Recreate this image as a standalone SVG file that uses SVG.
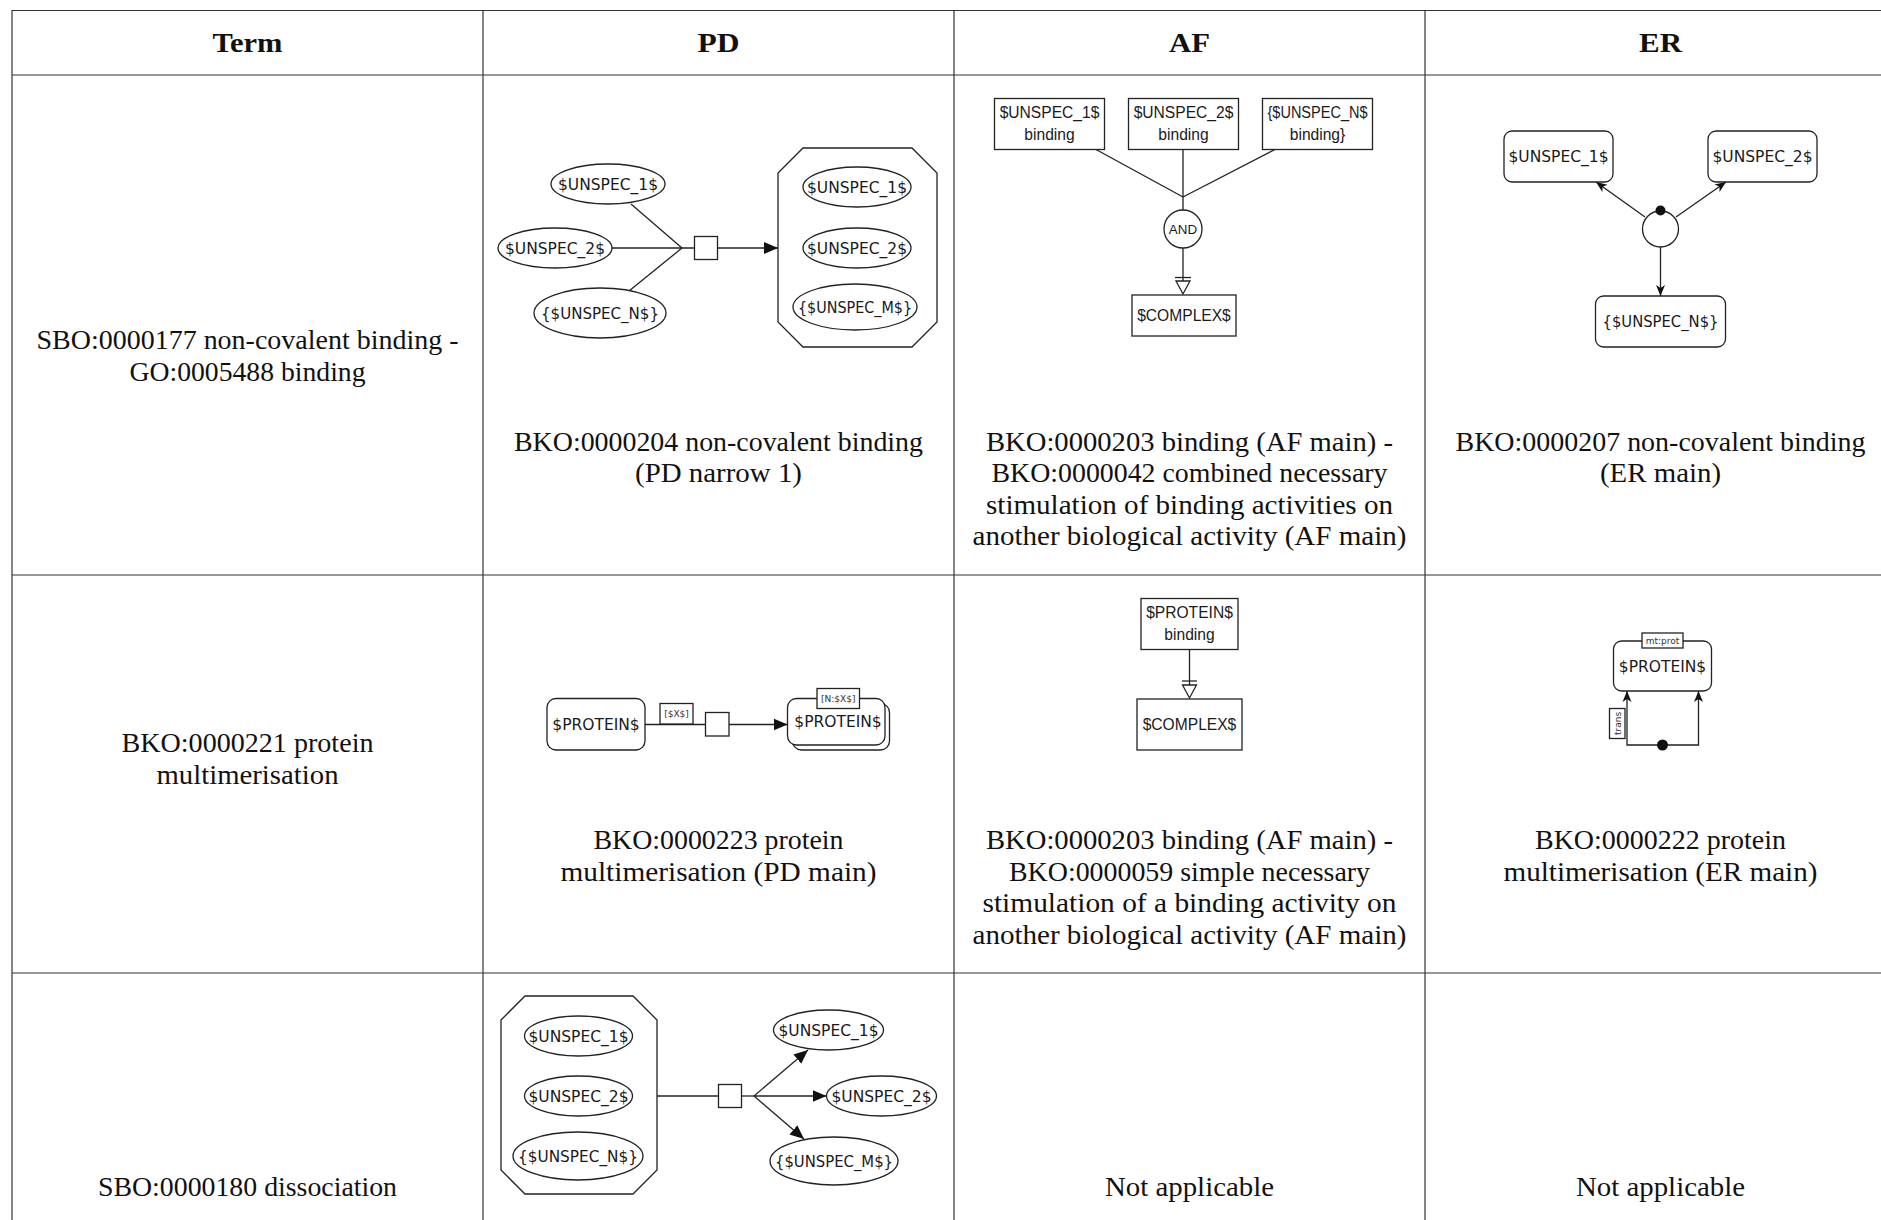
<svg xmlns="http://www.w3.org/2000/svg" width="1881" height="1220" viewBox="0 0 1881 1220">
  <style>
    .grid { stroke: #333; stroke-width: 1.2; fill: none; }
    .cap { font-family: "Liberation Serif", "Times New Roman", serif; font-size: 28px; text-anchor: middle; fill: #111; }
    .hd { font-weight: bold; }
    .sh { fill: #fff; stroke: #222; stroke-width: 1.3; }
    .t { font-family: "DejaVu Sans", sans-serif; font-size: 15.5px; text-anchor: middle; fill: #1a1a1a; }
    .ta { font-family: "Liberation Sans", Arial, sans-serif; font-size: 15.6px; text-anchor: middle; fill: #1a1a1a; }
    .sm { font-family: "DejaVu Sans", sans-serif; font-size: 9px; text-anchor: middle; fill: #333; }
    .e { stroke: #222; stroke-width: 1.3; fill: none; }
    .dot { fill: #111; stroke: none; }
  </style>
  <defs>
    <marker id="tri" markerUnits="userSpaceOnUse" markerWidth="15" markerHeight="13" refX="14" refY="6.5" orient="auto">
      <path d="M0,0.5 L14,6.5 L0,12.5 Z" fill="#111"/>
    </marker>
    <marker id="stealth" markerUnits="userSpaceOnUse" markerWidth="12" markerHeight="10" refX="11" refY="5" orient="auto">
      <path d="M0,0.5 L11,5 L0,9.5 L3,5 Z" fill="#111"/>
    </marker>
  </defs>

  <rect width="1881" height="1220" fill="#fff"/>

  <!-- table grid -->
  <g id="grid" class="grid">
    <line x1="12" y1="10.5" x2="1881" y2="10.5"/>
    <line x1="12" y1="75" x2="1881" y2="75"/>
    <line x1="12" y1="575" x2="1881" y2="575"/>
    <line x1="12" y1="973" x2="1881" y2="973"/>
    <line x1="12" y1="10" x2="12" y2="1220"/>
    <line x1="483" y1="10" x2="483" y2="1220"/>
    <line x1="954" y1="10" x2="954" y2="1220"/>
    <line x1="1425" y1="10" x2="1425" y2="1220"/>
  </g>

  <!-- header row -->
  <g id="header" class="cap hd">
    <text x="247.5" y="52" textLength="70" lengthAdjust="spacingAndGlyphs">Term</text>
    <text x="718.5" y="52" textLength="42" lengthAdjust="spacingAndGlyphs">PD</text>
    <text x="1189.5" y="52" textLength="41" lengthAdjust="spacingAndGlyphs">AF</text>
    <text x="1660.5" y="52" textLength="43" lengthAdjust="spacingAndGlyphs">ER</text>
  </g>

  <!-- captions -->
  <g id="captions" class="cap">
    <text x="247.5" y="349" textLength="422" lengthAdjust="spacingAndGlyphs">SBO:0000177 non-covalent binding -</text>
    <text x="247.5" y="380.5" textLength="236" lengthAdjust="spacingAndGlyphs">GO:0005488 binding</text>

    <text x="718.5" y="450.5" textLength="409" lengthAdjust="spacingAndGlyphs">BKO:0000204 non-covalent binding</text>
    <text x="718.5" y="482" textLength="167" lengthAdjust="spacingAndGlyphs">(PD narrow 1)</text>

    <text x="1189.5" y="450.5" textLength="407" lengthAdjust="spacingAndGlyphs">BKO:0000203 binding (AF main) -</text>
    <text x="1189.5" y="482" textLength="396" lengthAdjust="spacingAndGlyphs">BKO:0000042 combined necessary</text>
    <text x="1189.5" y="513.5" textLength="407" lengthAdjust="spacingAndGlyphs">stimulation of binding activities on</text>
    <text x="1189.5" y="545" textLength="434" lengthAdjust="spacingAndGlyphs">another biological activity (AF main)</text>

    <text x="1660.5" y="450.5" textLength="410" lengthAdjust="spacingAndGlyphs">BKO:0000207 non-covalent binding</text>
    <text x="1660.5" y="482" textLength="121" lengthAdjust="spacingAndGlyphs">(ER main)</text>

    <text x="247.5" y="752" textLength="252" lengthAdjust="spacingAndGlyphs">BKO:0000221 protein</text>
    <text x="247.5" y="783.5" textLength="182" lengthAdjust="spacingAndGlyphs">multimerisation</text>

    <text x="718.5" y="849" textLength="250" lengthAdjust="spacingAndGlyphs">BKO:0000223 protein</text>
    <text x="718.5" y="880.5" textLength="316" lengthAdjust="spacingAndGlyphs">multimerisation (PD main)</text>

    <text x="1189.5" y="849" textLength="407" lengthAdjust="spacingAndGlyphs">BKO:0000203 binding (AF main) -</text>
    <text x="1189.5" y="880.5" textLength="361" lengthAdjust="spacingAndGlyphs">BKO:0000059 simple necessary</text>
    <text x="1189.5" y="912" textLength="414" lengthAdjust="spacingAndGlyphs">stimulation of a binding activity on</text>
    <text x="1189.5" y="943.5" textLength="434" lengthAdjust="spacingAndGlyphs">another biological activity (AF main)</text>

    <text x="1660.5" y="849" textLength="251" lengthAdjust="spacingAndGlyphs">BKO:0000222 protein</text>
    <text x="1660.5" y="880.5" textLength="314" lengthAdjust="spacingAndGlyphs">multimerisation (ER main)</text>

    <text x="247.5" y="1196" textLength="299" lengthAdjust="spacingAndGlyphs">SBO:0000180 dissociation</text>
    <text x="1189.5" y="1196" textLength="169" lengthAdjust="spacingAndGlyphs">Not applicable</text>
    <text x="1660.5" y="1196" textLength="169" lengthAdjust="spacingAndGlyphs">Not applicable</text>
  </g>

  <!-- connectors -->
  <g id="connectors">
    <!-- PD binding -->
    <path class="e" d="M631,204 L682,248"/>
    <path class="e" d="M612,248 L694.5,248"/>
    <path class="e" d="M629,291 L682,248"/>
    <path class="e" d="M717.5,248 L778,248" marker-end="url(#tri)"/>
    <!-- AF binding -->
    <path class="e" d="M1096,149.5 L1183,197"/>
    <path class="e" d="M1183,149.5 L1183,210"/>
    <path class="e" d="M1275,149.5 L1183,197"/>
    <path class="e" d="M1183,248 L1183,281"/>
    <path class="e" d="M1175,277.5 H1191"/>
    <path class="sh" d="M1176,281 L1190,281 L1183,294 Z"/>
    <!-- ER binding -->
    <path class="e" d="M1645,217 L1596,182" marker-end="url(#stealth)"/>
    <path class="e" d="M1676,217 L1726,182" marker-end="url(#stealth)"/>
    <path class="e" d="M1660.5,247 L1660.5,296" marker-end="url(#stealth)"/>
    <!-- PD multimerisation -->
    <path class="e" d="M645,724.5 H705.5"/>
    <path class="e" d="M729,724.5 H787.5" marker-end="url(#tri)"/>
    <!-- AF multimerisation -->
    <path class="e" d="M1189.5,649.5 L1189.5,685"/>
    <path class="e" d="M1182,681 H1197"/>
    <path class="sh" d="M1182.5,685 L1196.5,685 L1189.5,698 Z"/>
    <!-- ER multimerisation -->
    <path class="e" d="M1662.5,745 H1627 V691" marker-end="url(#stealth)"/>
    <path class="e" d="M1662.5,745 H1698.5 V691" marker-end="url(#stealth)"/>
    <!-- PD dissociation -->
    <path class="e" d="M657,1096 H718.5"/>
    <path class="e" d="M741.5,1096 H754"/>
    <path class="e" d="M754,1096 L808,1050" marker-end="url(#tri)"/>
    <path class="e" d="M754,1096 L826.5,1096" marker-end="url(#tri)"/>
    <path class="e" d="M754,1096 L804,1139" marker-end="url(#tri)"/>
  </g>

  <!-- PD binding nodes -->
  <g id="pd1_unspec1"><ellipse class="sh" cx="608" cy="184" rx="57" ry="20"/><text class="t" x="608" y="189.5">$UNSPEC_1$</text></g>
  <g id="pd1_unspec2"><ellipse class="sh" cx="555" cy="248" rx="57" ry="20"/><text class="t" x="555" y="253.5">$UNSPEC_2$</text></g>
  <g id="pd1_unspecN"><ellipse class="sh" cx="600" cy="313" rx="66" ry="25"/><text class="t" x="600" y="318.5" textLength="118" lengthAdjust="spacingAndGlyphs">{$UNSPEC_N$}</text></g>
  <g id="pd1_process"><rect class="sh" x="694.5" y="236.5" width="23" height="23"/></g>
  <g id="pd1_complex">
    <polygon class="sh" points="803,148 912,148 937,173 937,322 912,347 803,347 778,322 778,173"/>
    <ellipse class="sh" cx="857" cy="187" rx="54" ry="20"/><text class="t" x="857" y="192.5">$UNSPEC_1$</text>
    <ellipse class="sh" cx="857" cy="248" rx="54" ry="20"/><text class="t" x="857" y="253.5">$UNSPEC_2$</text>
    <ellipse class="sh" cx="855" cy="307" rx="62" ry="23"/><text class="t" x="855" y="312.5" textLength="114" lengthAdjust="spacingAndGlyphs">{$UNSPEC_M$}</text>
  </g>

  <!-- AF binding nodes -->
  <g id="af1_unspec1"><rect class="sh" x="994.5" y="98.5" width="110" height="51"/><text class="ta" x="1049.5" y="117.5">$UNSPEC_1$</text><text class="ta" x="1049.5" y="140">binding</text></g>
  <g id="af1_unspec2"><rect class="sh" x="1128.5" y="98.5" width="110" height="51"/><text class="ta" x="1183.5" y="117.5">$UNSPEC_2$</text><text class="ta" x="1183.5" y="140">binding</text></g>
  <g id="af1_unspecN"><rect class="sh" x="1262.5" y="98.5" width="110" height="51"/><text class="ta" x="1317.5" y="117.5" textLength="100" lengthAdjust="spacingAndGlyphs">{$UNSPEC_N$</text><text class="ta" x="1317.5" y="140">binding}</text></g>
  <g id="af1_and"><circle class="sh" cx="1183" cy="229" r="19"/><text class="ta" x="1183" y="234" style="font-size:13.4px">AND</text></g>
  <g id="af1_complex"><rect class="sh" x="1132" y="295" width="104" height="41"/><text class="ta" x="1184" y="321">$COMPLEX$</text></g>

  <!-- ER binding nodes -->
  <g id="er1_unspec1"><rect class="sh" x="1504" y="131" width="109" height="51" rx="8"/><text class="t" x="1558.5" y="162">$UNSPEC_1$</text></g>
  <g id="er1_unspec2"><rect class="sh" x="1708" y="131" width="109" height="51" rx="8"/><text class="t" x="1762.5" y="162">$UNSPEC_2$</text></g>
  <g id="er1_unspecN"><rect class="sh" x="1595.5" y="296" width="130" height="51" rx="8"/><text class="t" x="1660.5" y="327" textLength="116" lengthAdjust="spacingAndGlyphs">{$UNSPEC_N$}</text></g>
  <g id="er1_binding"><circle class="sh" cx="1660.5" cy="229" r="18"/><circle class="dot" cx="1660.5" cy="210.5" r="5"/></g>

  <!-- PD multimerisation nodes -->
  <g id="pd2_protein"><rect class="sh" x="547" y="698.5" width="98" height="51.5" rx="9"/><text class="t" x="596" y="730">$PROTEIN$</text></g>
  <g id="pd2_stoich"><rect class="sh" x="660" y="703.5" width="33" height="20.5"/><text class="sm" x="676.5" y="717">[$X$]</text></g>
  <g id="pd2_process"><rect class="sh" x="705.5" y="712.5" width="23.5" height="23.5"/></g>
  <g id="pd2_multimer">
    <rect class="sh" x="792.5" y="703.5" width="97" height="46.5" rx="9"/>
    <rect class="sh" x="787.5" y="698.5" width="97.5" height="46.5" rx="9"/>
    <text class="t" x="838" y="727">$PROTEIN$</text>
    <rect class="sh" x="817" y="688.5" width="42.5" height="20"/><text class="sm" x="838.2" y="702">[N:$X$]</text>
  </g>

  <!-- AF multimerisation nodes -->
  <g id="af2_protein"><rect class="sh" x="1141" y="598.5" width="97" height="51"/><text class="ta" x="1189.5" y="618">$PROTEIN$</text><text class="ta" x="1189.5" y="640">binding</text></g>
  <g id="af2_complex"><rect class="sh" x="1137" y="699" width="105" height="51"/><text class="ta" x="1189.5" y="730">$COMPLEX$</text></g>

  <!-- ER multimerisation nodes -->
  <g id="er2_protein">
    <rect class="sh" x="1613.5" y="641" width="98" height="50" rx="8"/>
    <text class="t" x="1662.5" y="671.5">$PROTEIN$</text>
    <rect class="sh" x="1642" y="633" width="41" height="15"/><text class="sm" x="1662.5" y="643.5">mt:prot</text>
  </g>
  <g id="er2_transition">
    <circle class="dot" cx="1662.5" cy="745" r="5.5"/>
    <rect class="sh" x="1609.5" y="708.5" width="15.5" height="30"/>
    <text class="sm" x="0" y="0" transform="translate(1620.5,723.5) rotate(-90)">trans</text>
  </g>

  <!-- PD dissociation nodes -->
  <g id="pd3_complex">
    <polygon class="sh" points="525,996 633,996 657,1020 657,1170 633,1194 525,1194 501,1170 501,1020"/>
    <ellipse class="sh" cx="578.5" cy="1036" rx="54" ry="20"/><text class="t" x="578.5" y="1041.5">$UNSPEC_1$</text>
    <ellipse class="sh" cx="578.5" cy="1096" rx="54" ry="20"/><text class="t" x="578.5" y="1101.5">$UNSPEC_2$</text>
    <ellipse class="sh" cx="578" cy="1156" rx="65" ry="24"/><text class="t" x="578" y="1161.5" textLength="120" lengthAdjust="spacingAndGlyphs">{$UNSPEC_N$}</text>
  </g>
  <g id="pd3_process"><rect class="sh" x="718.5" y="1084.5" width="23" height="23"/></g>
  <g id="pd3_unspec1"><ellipse class="sh" cx="828.5" cy="1030" rx="55" ry="20"/><text class="t" x="828.5" y="1035.5">$UNSPEC_1$</text></g>
  <g id="pd3_unspec2"><ellipse class="sh" cx="881.5" cy="1096" rx="55" ry="20"/><text class="t" x="881.5" y="1101.5">$UNSPEC_2$</text></g>
  <g id="pd3_unspecM"><ellipse class="sh" cx="834" cy="1161" rx="64" ry="24"/><text class="t" x="834" y="1166.5" textLength="118" lengthAdjust="spacingAndGlyphs">{$UNSPEC_M$}</text></g>
</svg>
